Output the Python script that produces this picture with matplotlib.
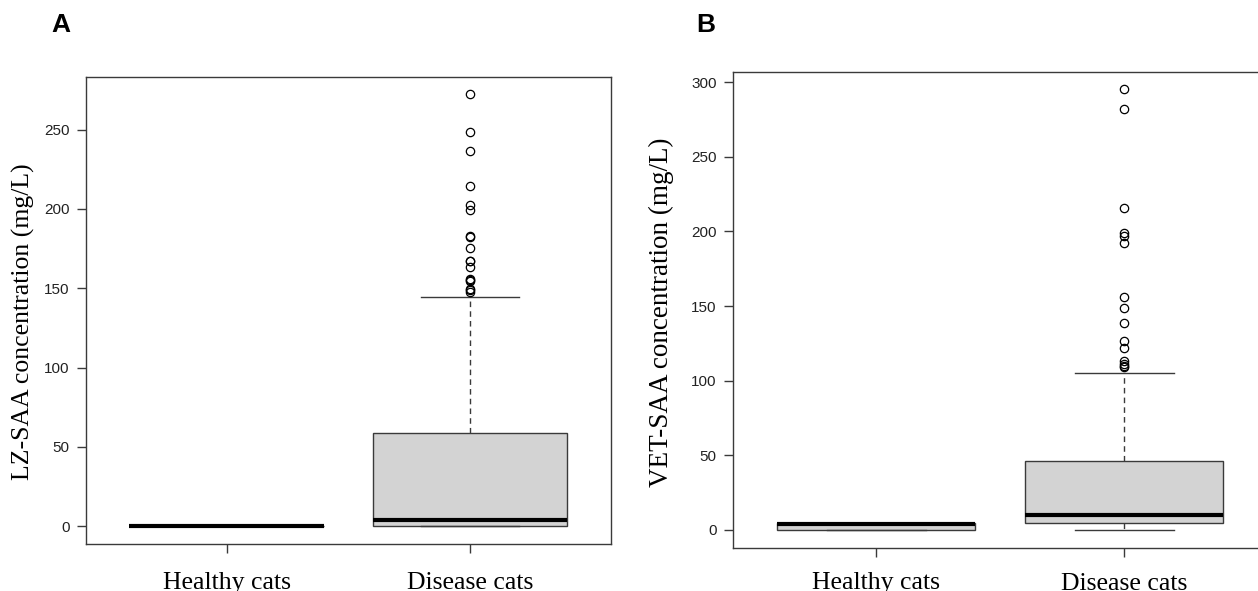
import matplotlib
matplotlib.use("Agg")
import matplotlib.pyplot as plt

groups = ["Healthy cats", "Disease cats"]

# Panel A: LZ-SAA (mg/L) box summaries
lz_q1 = [0.0, 0.2]
lz_med = [0.0, 3.6]
lz_q3 = [0.0, 58.6]
lz_whislo = [0.0, 0.0]
lz_whishi = [0.0, 144.3]
lz_fliers_healthy = []
lz_fliers_disease = [272.6, 248.5, 236.7, 214.2, 202.7, 199.1, 182.7, 182.3,
                     175.4, 167.4, 167.0, 163.5, 155.5, 155.8, 154.4, 149.2,
                     149.6, 147.7]

# Panel B: VET-SAA (mg/L)
vet_q1 = [0.0, 4.3]
vet_med = [4.0, 10.0]
vet_q3 = [4.8, 45.9]
vet_whislo = [0.0, 0.0]
vet_whishi = [4.8, 105.1]
vet_fliers_healthy = []
vet_fliers_disease = [295.3, 282.0, 215.9, 198.7, 196.9, 192.0, 156.0, 148.9,
                      138.6, 126.8, 122.2, 113.1, 111.3, 109.5, 109.9]

yticks_a = [0, 50, 100, 150, 200, 250]
yticks_b = [0, 50, 100, 150, 200, 250, 300]


def make_stats(q1, med, q3, lo, hi, fliers):
    stats = []
    for i in range(len(groups)):
        stats.append(dict(q1=q1[i], med=med[i], q3=q3[i], whislo=lo[i],
                          whishi=hi[i], fliers=fliers[i], label=groups[i]))
    return stats


def draw_panel(ax, stats, yticks, pad):
    edge = "#3a3a3a"
    ax.bxp(stats, positions=[1, 2], widths=0.8, capwidths=0.4,
           patch_artist=True, showfliers=True,
           boxprops=dict(facecolor="#d3d3d3", edgecolor=edge, linewidth=1.0),
           medianprops=dict(color="black", linewidth=3.0, solid_capstyle="butt"),
           whiskerprops=dict(color=edge, linewidth=1.0, linestyle=(0, (4, 3))),
           capprops=dict(color=edge, linewidth=1.0),
           flierprops=dict(marker="o", markerfacecolor="none",
                           markeredgecolor="black", markersize=6,
                           markeredgewidth=0.9, linestyle="none"))
    # R style 4% axis extension
    top = max(max(s["fliers"]) if len(s["fliers"]) else s["whishi"] for s in stats)
    ext = 0.04 * top
    ax.set_ylim(-ext, top + ext)
    ax.set_xlim(0.42, 2.58)
    ax.set_yticks(yticks)
    ax.set_xticks([1, 2])
    ax.set_xticklabels(groups, fontfamily="Liberation Serif", fontsize=18.5)
    for s in ax.spines.values():
        s.set_color(edge)
        s.set_linewidth(1.0)
    ax.tick_params(axis="y", direction="out", length=6.5, width=1.0,
                   color=edge, labelsize=11, labelcolor="#222222", pad=5)
    ax.tick_params(axis="x", direction="out", length=6.5, width=1.0,
                   color=edge, labelcolor="black", pad=pad)
    for lab in ax.get_yticklabels():
        lab.set_fontfamily("Liberation Sans")


fig = plt.figure(figsize=(12.58, 5.91), dpi=100)
W, H = 1258.0, 591.0

ax_a = fig.add_axes([85.5 / W, 1 - 543.5 / H, (611 - 85.5) / W, (543.5 - 76.5) / H])
ax_b = fig.add_axes([732.5 / W, 1 - 547.5 / H, (1268 - 732.5) / W, (547.5 - 71.7) / H])

draw_panel(ax_a, make_stats(lz_q1, lz_med, lz_q3, lz_whislo, lz_whishi,
                            [lz_fliers_healthy, lz_fliers_disease]),
           yticks_a, 14)
draw_panel(ax_b, make_stats(vet_q1, vet_med, vet_q3, vet_whislo, vet_whishi,
                            [vet_fliers_healthy, vet_fliers_disease]),
           yticks_b, 11.5)

# axis titles and panel letters
fig.text(23 / W, 1 - 322 / H, "LZ-SAA concentration (mg/L)", rotation=90,
         ha="center", va="center", fontsize=18.5, fontfamily="Liberation Serif")
fig.text(661 / W, 1 - 312 / H, "VET-SAA concentration (mg/L)", rotation=90,
         ha="center", va="center", fontsize=19.5, fontfamily="Liberation Serif")
fig.text(61 / W, 1 - 25 / H, "A", ha="center", va="center", fontsize=19,
         fontweight="bold", fontfamily="Liberation Sans")
fig.text(706 / W, 1 - 25 / H, "B", ha="center", va="center", fontsize=19,
         fontweight="bold", fontfamily="Liberation Sans")

fig.savefig("out.png", dpi=100, facecolor="white")
